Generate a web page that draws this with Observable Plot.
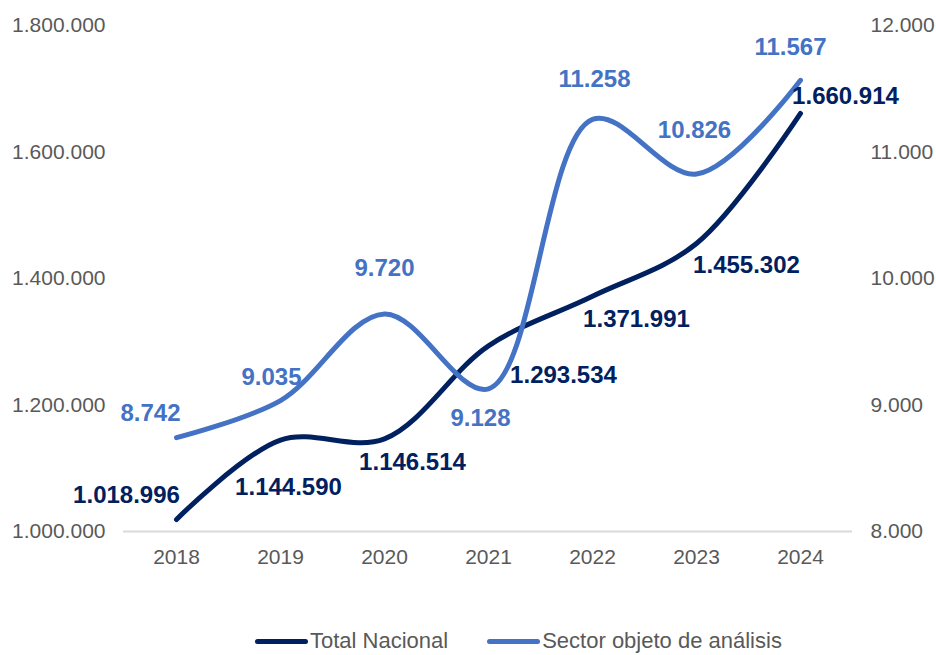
<!DOCTYPE html>
<html>
<head>
<meta charset="utf-8">
<script src="https://cdn.jsdelivr.net/npm/d3@7"></script>
<script src="https://cdn.jsdelivr.net/npm/@observablehq/plot@0.6"></script>
<style>
  body { margin: 0; background: #fff; font-family: "Liberation Sans", Arial, sans-serif; }
  #wrap { position: relative; width: 936px; height: 655px; overflow: hidden; }
  #legend { position: absolute; top: 629px; left: 255px; display: flex; gap: 39px; font-size: 22px; line-height: 24px; color: #595959; }
  .item { display: flex; align-items: center; }
  .swatch { width: 53px; height: 5px; border-radius: 3px; margin-right: 2px; }
</style>
</head>
<body>
<div id="wrap"><div id="chart"></div><div id="legend"></div></div>
<script>
const years = ["2018", "2019", "2020", "2021", "2022", "2023", "2024"];
const totalNacional = [1018996, 1144590, 1146514, 1293534, 1371991, 1455302, 1660914];
const sectorAnalisis = [8742, 9035, 9720, 9128, 11258, 10826, 11567];
const leftTicks = [1000000, 1200000, 1400000, 1600000, 1800000];
const rightTicks = [8000, 9000, 10000, 11000, 12000];
const seriesNames = ["Total Nacional", "Sector objeto de análisis"];
const colors = ["#002060", "#4472C4"];

// label placement offsets (dx, dy) in pixels
const totalLabelOffset = [[-50, -24], [8, 47], [28, 23], [75, 29], [44, 23], [50, 22], [45, -17]];
const sectorLabelOffset = [[-26, -24], [-9, -23], [0, -46], [-8, 30], [2, -40], [-2, -44], [-10, -33]];

const loc = d3.formatLocale({decimal: ",", thousands: ".", grouping: [3], currency: ["", ""]});
const fmt = loc.format(",d");

// map right axis (8.000–12.000) onto left axis (1.000.000–1.800.000)
const toLeft = v => 1000000 + (v - 8000) * 200;
const fromLeft = v => 8000 + (v - 1000000) / 200;

const totalData = years.map((y, i) => ({year: y, value: totalNacional[i]}));
const sectorData = years.map((y, i) => ({year: y, value: sectorAnalisis[i], v: toLeft(sectorAnalisis[i])}));

const labelFont = {fontSize: 24, fontWeight: "bold", fontFamily: "Liberation Sans, Arial, sans-serif"};

const marks = [
  Plot.ruleY([1000000], {stroke: "#d9d9d9", strokeWidth: 2}),
  Plot.axisY(leftTicks, {anchor: "left", tickFormat: fmt, tickSize: 0, tickPadding: 18, fontSize: 21, fill: "#595959", label: null}),
  Plot.axisY(rightTicks.map(toLeft), {anchor: "right", tickFormat: d => fmt(fromLeft(d)), tickSize: 0, tickPadding: 18, fontSize: 21, fill: "#595959", label: null}),
  Plot.axisX({tickSize: 0, tickPadding: 18, fontSize: 21, fill: "#595959", label: null}),
  Plot.line(totalData, {x: "year", y: "value", stroke: colors[0], strokeWidth: 5, curve: "catmull-rom", strokeLinecap: "round"}),
  Plot.line(sectorData, {x: "year", y: "v", stroke: colors[1], strokeWidth: 5, curve: "catmull-rom", strokeLinecap: "round"}),
  ...totalData.map((d, i) => Plot.text([d], {x: "year", y: "value", text: d => fmt(d.value), fill: colors[0], dx: totalLabelOffset[i][0], dy: totalLabelOffset[i][1], ...labelFont})),
  ...sectorData.map((d, i) => Plot.text([d], {x: "year", y: "v", text: d => fmt(d.value), fill: colors[1], dx: sectorLabelOffset[i][0], dy: sectorLabelOffset[i][1], ...labelFont}))
];

const chart = Plot.plot({
  width: 936,
  height: 600,
  marginTop: 25,
  marginBottom: 69,
  marginLeft: 123,
  marginRight: 84,
  style: {fontFamily: "Liberation Sans, Arial, sans-serif", background: "#fff"},
  x: {type: "point", domain: years, padding: 0.5, axis: null},
  y: {domain: [1000000, 1800000], axis: null},
  marks
});
document.getElementById("chart").appendChild(chart);

const legend = document.getElementById("legend");
seriesNames.forEach((name, i) => {
  const item = document.createElement("div");
  item.className = "item";
  const sw = document.createElement("div");
  sw.className = "swatch";
  sw.style.background = colors[i];
  const lab = document.createElement("span");
  lab.textContent = name;
  item.appendChild(sw);
  item.appendChild(lab);
  legend.appendChild(item);
});
</script>
</body>
</html>
